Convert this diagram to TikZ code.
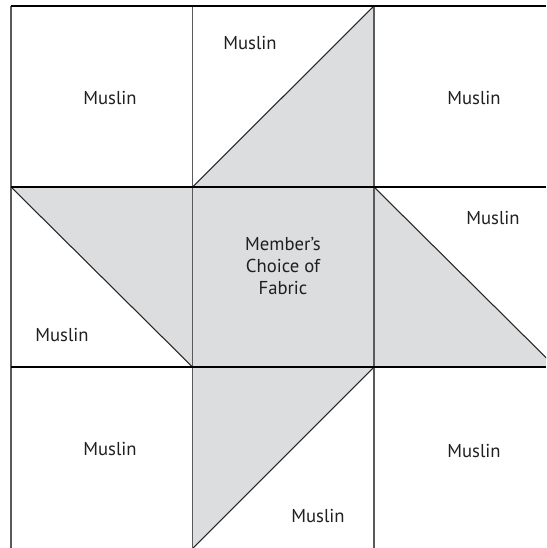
\documentclass[tikz,border=0pt]{standalone}
\usepackage{fontspec}
\setmainfont{PT Sans}
\definecolor{fabric}{HTML}{DCDDDE}
\definecolor{seamgray}{HTML}{5A5A5A}

\begin{document}
\begin{tikzpicture}[x=0.75pt, y=-0.75pt,
    label/.style={font=\fontsize{14}{16.5}\selectfont, text=black!88, align=center, inner sep=0pt},
    seam/.style={black, line width=0.9pt},
    post/.style={seamgray, line width=1.3pt},
    bias/.style={black!85, line width=0.8pt}]
    \useasboundingbox (0,0) rectangle (546,548);
    \clip (0,0) rectangle (546,548);

    % shaded pieces
    \fill[fabric] (192.5,187) rectangle (374,367);
    \fill[fabric] (192.5,187) -- (374,6) -- (374,187) -- cycle;
    \fill[fabric] (11,187) -- (192.5,187) -- (192.5,367) -- cycle;
    \fill[fabric] (374,187) -- (374,367) -- (555.5,367) -- cycle;
    \fill[fabric] (192.5,367) -- (374,367) -- (192.5,548.5) -- cycle;

    % diagonal seams
    \draw[bias] (192.5,187) -- (374,6);
    \draw[bias] (11,187) -- (192.5,367);
    \draw[bias] (374,187) -- (555.5,367);
    \draw[bias] (374,367) -- (192.5,548.5);

    % vertical seams
    \foreach \x in {11,192.5,374}
        \draw[post] (\x,6) -- (\x,548);
    % horizontal seams
    \foreach \y in {6,187,367}
        \draw[seam] (11,\y) -- (546,\y);

    \node[label] (topleft)  at (110,98)  {Muslin};
    \node[label] (topmid)   at (250,43)  {Muslin};
    \node[label] (topright) at (474,98)  {Muslin};
    \node[label] (midleft)  at (62,335)  {Muslin};
    \node[label] (center)   at (283,266) {Member’s\\Choice of\\Fabric};
    \node[label] (midright) at (493,218) {Muslin};
    \node[label] (botleft)  at (110,449) {Muslin};
    \node[label] (botmid)   at (318,516) {Muslin};
    \node[label] (botright) at (474,451) {Muslin};
\end{tikzpicture}
\end{document}
